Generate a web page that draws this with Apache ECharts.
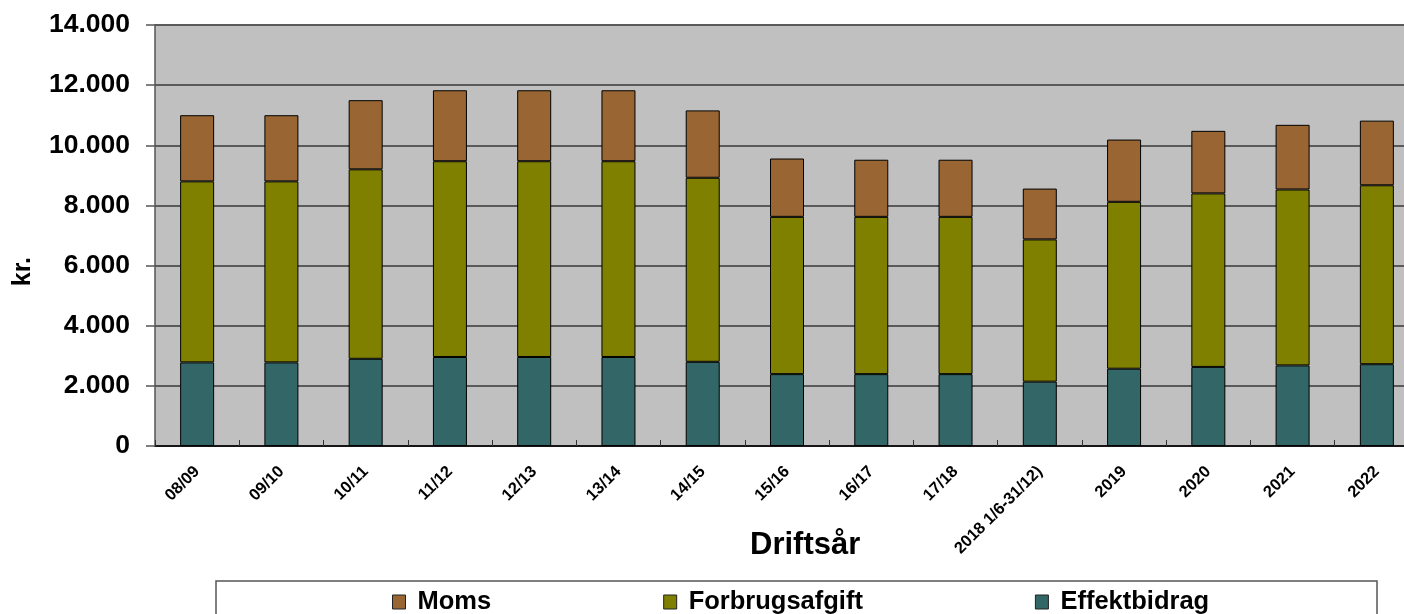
<!DOCTYPE html>
<html>
<head>
<meta charset="utf-8">
<script src="https://cdn.jsdelivr.net/npm/echarts@6/dist/echarts.min.js"></script>
<style>
html,body{margin:0;padding:0;background:#fff;}
#c{width:1404px;height:614px;}
</style>
</head>
<body>
<div id="c"></div>
<script>
const categories = ['08/09','09/10','10/11','11/12','12/13','13/14','14/15','15/16','16/17','17/18','2018 1/6-31/12)','2019','2020','2021','2022'];
const effektbidrag = [2780,2780,2900,2960,2960,2960,2800,2390,2390,2390,2140,2570,2630,2680,2720];
const forbrugsafgift = [6020,6020,6300,6510,6510,6510,6120,5230,5230,5230,4730,5550,5770,5850,5950];
const moms = [2200,2200,2300,2360,2360,2360,2240,1940,1900,1900,1690,2070,2080,2150,2150];
const yTicks = {min:0, max:14000, interval:2000};

const FONT = '"Liberation Sans", Arial, sans-serif';
const chart = echarts.init(document.getElementById('c'));
const barCommon = {type:'bar', stack:'total', barWidth:34};
chart.setOption({
  animation:false,
  grid:{left:155, top:25, width:1264, bottom:168, show:true, backgroundColor:'#c0c0c0', borderWidth:0,
        outerBoundsMode:'none', containLabel:false},
  legend:{
    left:392, top:589, padding:0, itemGap:172, itemWidth:13, itemHeight:14,
    icon:'rect',
    textStyle:{fontFamily:FONT, fontWeight:'bold', fontSize:25.5, color:'#000', padding:[0,0,0,7]},
    itemStyle:{borderColor:'#222', borderWidth:1},
    data:['Moms','Forbrugsafgift','Effektbidrag']
  },
  xAxis:{
    type:'category', data:categories,
    axisLine:{lineStyle:{color:'#000', width:1.5}},
    axisTick:{show:true, inside:true, length:6, lineStyle:{color:'#333', width:1}},
    axisLabel:{rotate:45, interval:0, margin:23, fontFamily:FONT, fontWeight:'bold', fontSize:16.5, color:'#000'}
  },
  yAxis:{
    type:'value', min:yTicks.min, max:yTicks.max, interval:yTicks.interval,
    axisLine:{show:true, lineStyle:{color:'#555', width:1.5}},
    axisTick:{show:true, length:9, lineStyle:{color:'#555', width:1.5}},
    splitLine:{lineStyle:{color:'#5a5a5a', width:2}},
    axisLabel:{margin:25, fontFamily:FONT, fontWeight:'bold', fontSize:26.5, color:'#000',
      formatter:v => v===0 ? '0' : (v/1000).toFixed(3)}
  },
  graphic:[
    {type:'text', left:11, top:257, rotation:Math.PI/2, style:{text:'kr.', font:'bold 25px '+FONT, fill:'#000'}},
    {type:'text', left:750, top:530, style:{text:'Driftsår', font:'bold 31px '+FONT, fill:'#000'}},
    {type:'rect', z:-1, shape:{x:216, y:581, width:1161, height:50}, style:{fill:'#fff', stroke:'#555', lineWidth:1.5}}
  ],
  series:[
    Object.assign({name:'Effektbidrag', data:effektbidrag, color:'#336666'}, barCommon, {itemStyle:{color:'#336666', borderColor:'#000', borderWidth:1}}),
    Object.assign({name:'Forbrugsafgift', data:forbrugsafgift, color:'#808000'}, barCommon, {itemStyle:{color:'#808000', borderColor:'#000', borderWidth:1}}),
    Object.assign({name:'Moms', data:moms, color:'#996633'}, barCommon, {itemStyle:{color:'#996633', borderColor:'#000', borderWidth:1}})
  ]
});
</script>
</body>
</html>
